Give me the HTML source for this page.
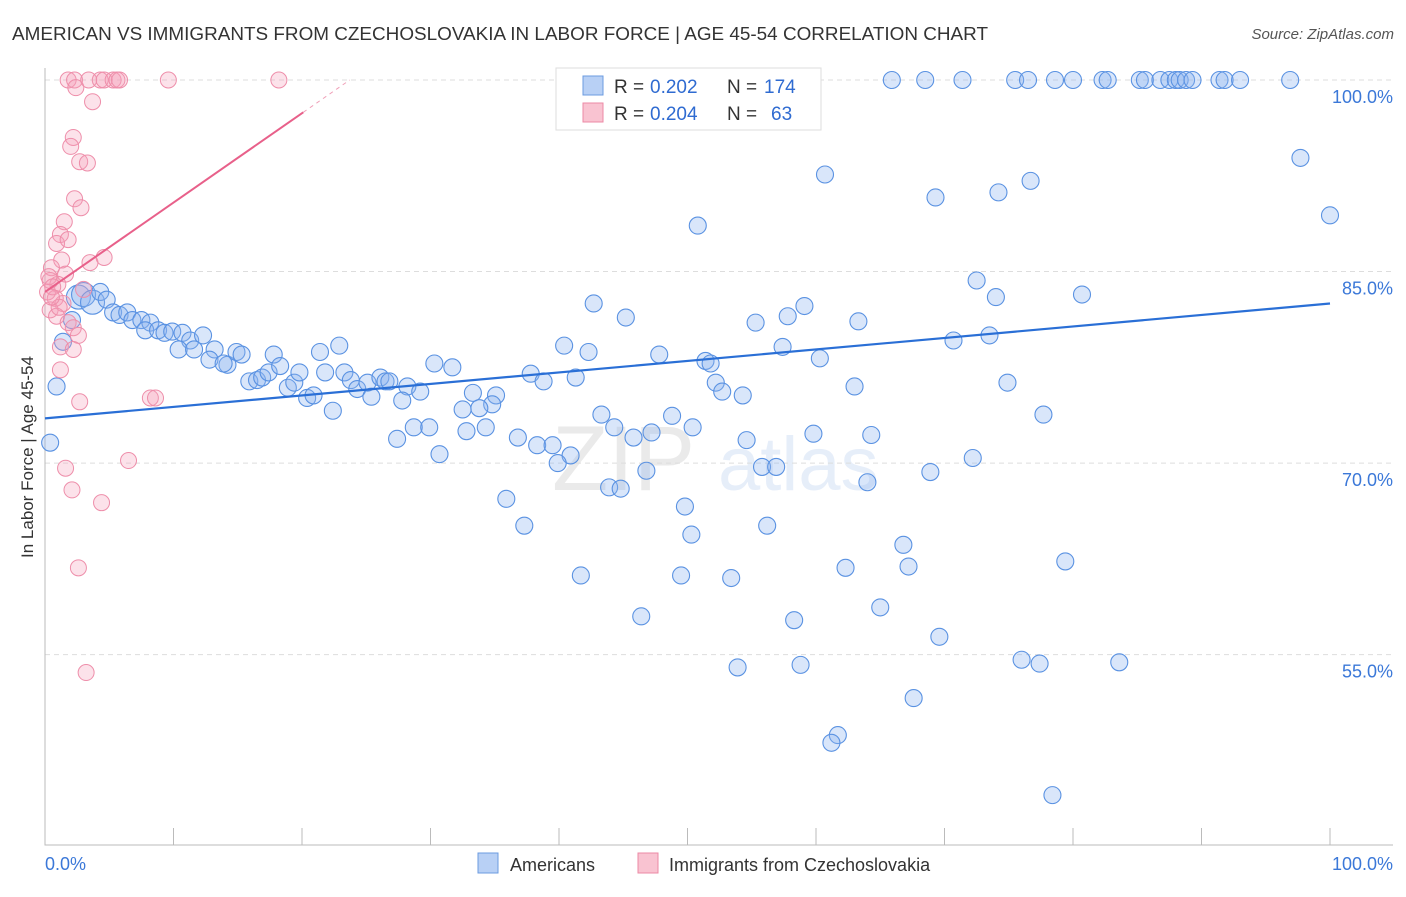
<!DOCTYPE html>
<html><head><meta charset="utf-8"><style>
body{margin:0;background:#fff;font-family:"Liberation Sans",sans-serif;}
svg text{font-family:"Liberation Sans",sans-serif;}
</style></head><body>
<svg id="chart" width="1406" height="892" xmlns="http://www.w3.org/2000/svg">
<text x="12" y="40" font-size="18" fill="#333" textLength="976" lengthAdjust="spacingAndGlyphs">AMERICAN VS IMMIGRANTS FROM CZECHOSLOVAKIA IN LABOR FORCE | AGE 45-54 CORRELATION CHART</text>
<text x="1394" y="39" font-size="15" fill="#555" font-style="italic" text-anchor="end">Source: ZipAtlas.com</text>
<text transform="translate(33,457) rotate(-90)" font-size="17" fill="#333" text-anchor="middle">In Labor Force | Age 45-54</text>
<g opacity="0.13">
<text x="552" y="490" font-size="92" font-family="Liberation Serif" fill="#666">ZIP</text>
<text x="718" y="490" font-size="76" fill="#4a7fd6">atlas</text>
</g>
<g id="grid"></g><g id="axes"></g><g id="pts"></g><g id="lines"></g>
<g>
<rect x="556" y="68" width="265" height="62" fill="#fff" stroke="#ddd"/>
<rect x="583" y="76" width="20" height="19" fill="#b8d0f5" stroke="#6b9be0"/>
<rect x="583" y="103" width="20" height="19" fill="#f9c3d1" stroke="#ec8aa5"/>
<text x="614" y="93" font-size="19" fill="#333">R =</text>
<text x="650" y="93" font-size="19" fill="#2f6bd1">0.202</text>
<text x="727" y="93" font-size="19" fill="#333">N =</text>
<text x="764" y="93" font-size="19" fill="#2f6bd1">174</text>
<text x="614" y="120" font-size="19" fill="#333">R =</text>
<text x="650" y="120" font-size="19" fill="#2f6bd1">0.204</text>
<text x="727" y="120" font-size="19" fill="#333">N =</text>
<text x="771" y="120" font-size="19" fill="#2f6bd1">63</text>
</g>
<g>
<rect x="478" y="853" width="20" height="20" fill="#b8d0f5" stroke="#6b9be0"/>
<text x="510" y="871" font-size="18" fill="#333">Americans</text>
<rect x="638" y="853" width="20" height="20" fill="#f9c3d1" stroke="#ec8aa5"/>
<text x="669" y="871" font-size="18" fill="#333">Immigrants from Czechoslovakia</text>
</g>
</svg>
<script>
const blueX=[65.9,68.5,71.4,75.5,76.5,78.6,80.0,82.3,82.7,85.2,85.6,86.8,87.5,88.0,88.3,88.8,89.3,91.4,91.8,93.0,96.9,
97.7,100,60.7,69.3,74.2,76.7,50.8,72.5,74.0,80.7,42.7,45.2,59.1,57.8,63.3,55.3,73.5,70.7,57.4,60.3,40.4,42.3,47.8,51.4,51.8,74.9,63.0,52.2,52.7,54.3,37.8,38.8,41.3,30.3,31.7,28.2,29.2,33.3,35.1,34.8,33.8,32.5,43.3,48.8,77.7,44.3,50.4,47.2,45.8,28.7,29.9,32.8,34.3,36.8,38.3,39.5,40.9,39.9,30.7,27.4,54.6,59.8,64.3,72.2,55.8,56.9,46.8,68.9,64.0,43.9,44.8,35.9,49.8,37.3,50.3,56.2,66.8,67.2,79.4,62.3,41.7,49.5,53.4,46.4,65.0,58.3,69.6,76.0,77.4,83.6,53.9,58.8,67.6,61.7,61.2,78.4,
0.4,0.9,1.4,2.1,2.6,3.0,3.7,4.3,4.8,5.3,5.8,6.4,6.8,7.5,8.2,7.8,8.8,9.3,9.9,10.7,11.3,12.3,10.4,11.6,13.2,12.8,14.2,14.9,15.3,13.9,15.9,16.5,16.9,17.4,17.8,18.3,18.9,19.4,19.8,20.4,20.9,21.4,21.8,22.9,22.4,23.3,23.8,24.3,25.1,25.4,26.1,26.5,26.8,27.8];
const blueY=[100,100,100,100,100,100,100,100,100,100,100,100,100,100,100,100,100,100,100,100,100,
93.9,89.4,92.6,90.8,91.2,92.1,88.6,84.3,83.0,83.2,82.5,81.4,82.3,81.5,81.1,81.0,80.0,79.6,79.1,78.2,79.2,78.7,78.5,78.0,77.8,76.3,76.0,76.3,75.6,75.3,77.0,76.4,76.7,77.8,77.5,76.0,75.6,75.5,75.3,74.6,74.3,74.2,73.8,73.7,73.8,72.8,72.8,72.4,72.0,72.8,72.8,72.5,72.8,72.0,71.4,71.4,70.6,70.0,70.7,71.9,71.8,72.3,72.2,70.4,69.7,69.7,69.4,69.3,68.5,68.1,68.0,67.2,66.6,65.1,64.4,65.1,63.6,61.9,62.3,61.8,61.2,61.2,61.0,58.0,58.7,57.7,56.4,54.6,54.3,54.4,54.0,54.2,51.6,48.7,48.1,44.0,
71.6,76.0,79.5,81.2,83.0,83.2,82.6,83.4,82.8,81.8,81.6,81.8,81.2,81.2,81.0,80.4,80.4,80.2,80.3,80.2,79.6,80.0,78.9,78.9,78.9,78.1,77.7,78.7,78.5,77.8,76.4,76.5,76.7,77.1,78.5,77.6,75.9,76.3,77.1,75.1,75.3,78.7,77.1,79.2,74.1,77.1,76.5,75.8,76.3,75.2,76.7,76.4,76.4,74.9];
const pinkX=[1.8,2.3,3.4,4.3,4.6,5.3,5.6,5.8,9.6,18.2,2.4,3.7,2.2,2.0,2.7,3.3,2.3,2.8,1.5,1.2,0.9,1.8,1.3,3.5,4.6,0.5,1.6,0.4,1.0,0.2,0.8,1.4,0.4,0.9,1.8,2.2,2.6,1.2,2.2,1.2,2.7,8.2,8.6,6.5,1.6,2.1,4.4,2.6,3.2,3.0,0.3,0.6,1.1,0.5];
const pinkY=[100,100,100,100,100,100,100,100,100,100,99.4,98.3,95.5,94.8,93.6,93.5,90.7,90.0,88.9,87.9,87.2,87.5,85.9,85.7,86.1,85.3,84.8,84.3,84.0,83.4,82.9,82.5,82.0,81.5,81.0,80.6,80.0,79.1,78.9,77.3,74.8,75.1,75.1,70.2,69.6,67.9,66.9,61.8,53.6,83.6,84.6,83.8,82.2,83.0];
const yTicks=[100,85,70,55];
const xTickVals=[0,10,20,30,40,50,60,70,80,90,100];
const blueFit=[73.5,82.5];
const pinkFit=[83.4,0.70];

const sx=v=>45+v*12.85, sy=v=>80+(100-v)*12.77;
const NS='http://www.w3.org/2000/svg';
function mk(parent,tag,attrs){const e=document.createElementNS(NS,tag);for(const k in attrs)e.setAttribute(k,attrs[k]);document.getElementById(parent).appendChild(e);return e;}
yTicks.forEach(t=>{
 const l=mk('grid','line',{x1:45,x2:1393,y1:sy(t),y2:sy(t),stroke:'#ddd','stroke-dasharray':'5,4'});
 
 
 const tx=mk('grid','text',{x:1393,y:sy(t)+23,'font-size':18,fill:'#3b78d8','text-anchor':'end'});
 tx.textContent=t.toFixed(1)+'%';
 
 
});
const ax=mk('axes','path',{d:'M45,68V845H1393',fill:'none',stroke:'#bbb'});


xTickVals.forEach(t=>{
 const l=mk('axes','line',{x1:sx(t),x2:sx(t),y1:828,y2:845,stroke:'#bbb'});
 
 
});
[[0,'0.0%','start',45],[100,'100.0%','end',1393]].forEach(a=>{
 const tx=mk('axes','text',{x:a[3],y:870,'font-size':18,fill:'#3b78d8','text-anchor':a[2]});
 tx.textContent=a[1];
 
 
});
blueX.forEach((x,i)=>{
 const c=mk('pts','circle',{cx:sx(x),cy:sy(blueY[i]),r:(x<4&&blueY[i]>82)?12:8.5,fill:'rgba(140,180,240,0.33)',stroke:'#5a92e2','stroke-width':1.1});
 
 
});
pinkX.forEach((x,i)=>{
 const c=mk('pts','circle',{cx:sx(x),cy:sy(pinkY[i]),r:8,fill:'rgba(245,160,185,0.3)',stroke:'#ee8eaa','stroke-width':1});
 
 
});
const bl=mk('lines','line',{x1:sx(0),y1:sy(blueFit[0]),x2:sx(100),y2:sy(blueFit[1]),stroke:'#2a6fd6','stroke-width':2.2});


const pe=20.1, pend=(100-pinkFit[0])/pinkFit[1];
const pl=mk('lines','line',{x1:sx(0),y1:sy(pinkFit[0]),x2:sx(pe),y2:sy(pinkFit[0]+pinkFit[1]*pe),stroke:'#e8608a','stroke-width':2});


const pd=mk('lines','line',{x1:sx(pe),y1:sy(pinkFit[0]+pinkFit[1]*pe),x2:sx(pend),y2:sy(100),stroke:'#f0a0b8','stroke-width':1,'stroke-dasharray':'4,4'});


</script>
</body></html>
